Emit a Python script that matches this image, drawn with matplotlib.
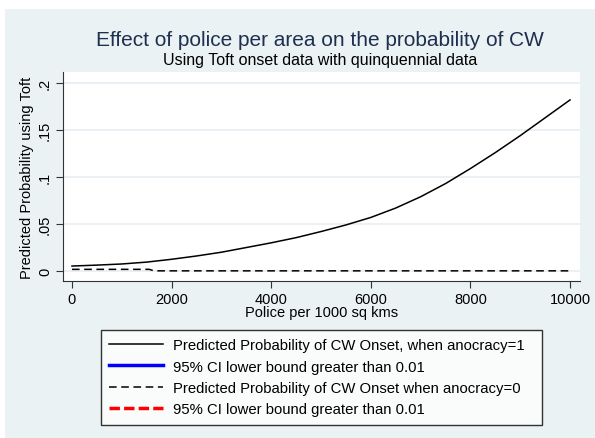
import numpy as np
import matplotlib.pyplot as plt
from matplotlib.patches import Rectangle

plt.rcParams['font.family'] = ['Liberation Sans', 'DejaVu Sans']

# values
police = [0, 250, 500, 1000, 1500, 2000, 2500, 3000, 3500, 4000, 4500, 5000,
          5500, 6000, 6500, 7000, 7500, 8000, 8500, 9000, 9500, 10000]
prob_anocracy1 = [0.0053, 0.0058, 0.0063, 0.0075, 0.0095, 0.0125, 0.016, 0.020, 0.025, 0.030,
                  0.0355, 0.042, 0.049, 0.057, 0.067, 0.079, 0.093, 0.109, 0.126, 0.144,
                  0.163, 0.182]
police0 = [0, 1550, 1650, 10000]
prob_anocracy0 = [0.0018, 0.0018, 0.0002, 0.0002]
# segments where the 95% CI lower bound is above 0.01 (none in the plotted range)
sig1_x, sig1_y = [], []
sig0_x, sig0_y = [], []

xticks = [0, 2000, 4000, 6000, 8000, 10000]
yticks = [0, 0.05, 0.1, 0.15, 0.2]
ytick_labels = ["0", ".05", ".1", ".15", ".2"]

bg = "#EAF2F3"
fig = plt.figure(figsize=(5.95, 4.39), dpi=100)
fig.patch.set_facecolor("white")
fig.patches.append(Rectangle((5/595, 0), 1, 1 - 10/439, transform=fig.transFigure,
                             facecolor=bg, edgecolor="none", zorder=-10))

ax = fig.add_axes([63/595, 1 - 282/439, (580 - 63)/595, (282 - 73)/439])
ax.set_facecolor("white")

l1, = ax.plot(police, prob_anocracy1, color="black", lw=1.1)
l2, = ax.plot(sig1_x, sig1_y, color="blue", lw=2.5)
l3, = ax.plot(police0, prob_anocracy0, color="black", lw=1.1, ls=(0, (5, 3)))
l4, = ax.plot(sig0_x, sig0_y, color="red", lw=2.5, ls=(0, (3, 1.2)))

ax.set_xlim(-180, 10200)
ax.set_ylim(-0.0106, 0.2117)
ax.set_xticks(xticks)
ax.set_xticklabels([str(t) for t in xticks], fontsize=10.5)
ax.set_yticks(yticks)
ax.set_yticklabels(ytick_labels, fontsize=10.5, rotation=90, va="center")
ax.grid(axis="y", color="#E6EEF1", lw=1.2)
ax.set_axisbelow(True)
for s in ["top", "right"]:
    ax.spines[s].set_visible(False)
for s in ["left", "bottom"]:
    ax.spines[s].set_color("#333333")
ax.tick_params(direction="out", length=5, color="#333333", pad=3)

ax.set_xlabel("Police per 1000 sq kms", fontsize=10.5, labelpad=-1)
ax.set_ylabel("Predicted Probability using Toft", fontsize=10.5, labelpad=3)

fig.text(0.538, 1 - 40/439, "Effect of police per area on the probability of CW",
         ha="center", va="center", fontsize=15, color="#1E2F50")
fig.text(0.538, 1 - 61/439, "Using Toft onset data with quinquennial data",
         ha="center", va="center", fontsize=11.5, color="black")

leg = fig.legend([l1, l2, l3, l4],
                 ["Predicted Probability of CW Onset, when anocracy=1",
                  "95% CI lower bound greater than 0.01",
                  "Predicted Probability of CW Onset when anocracy=0",
                  "95% CI lower bound greater than 0.01"],
                 loc="upper left", mode="expand",
                 bbox_to_anchor=(101/595, 1 - 420/439, 441/595, 89/439),
                 fontsize=10.7, frameon=True, fancybox=False, handlelength=3.6,
                 labelspacing=0.5, borderpad=0.55, handletextpad=0.7, borderaxespad=0)
leg.get_frame().set_edgecolor("black")
leg.get_frame().set_linewidth(1.0)

fig.savefig("out.png", dpi=100, facecolor=fig.get_facecolor())
